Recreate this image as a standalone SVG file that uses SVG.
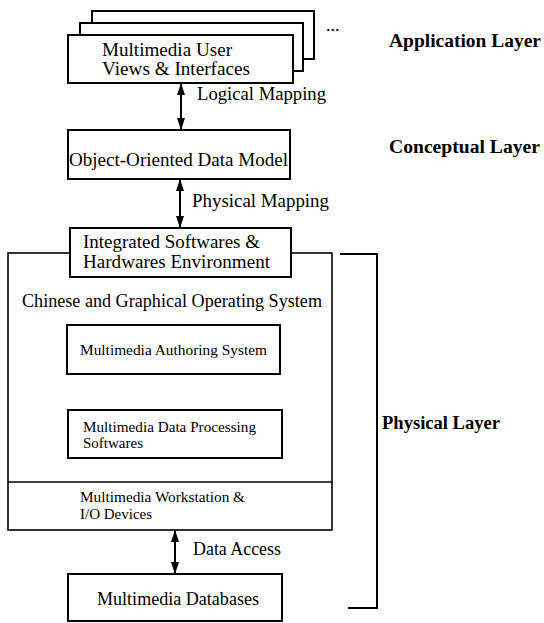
<svg xmlns="http://www.w3.org/2000/svg" width="544" height="623" viewBox="0 0 544 623">
<style>
text{font-family:"Liberation Serif","Times New Roman",serif;fill:#000}
.b{fill:#fff;stroke:#000;stroke-width:2}
.o{fill:none;stroke:#000;stroke-width:1.6}
.lab{font-size:18px}
.sm{font-size:15px}
.bold{font-weight:bold;font-size:18px}
.c{fill:none;stroke:#000;stroke-width:2}
</style>
<defs>
<marker id="ah" viewBox="0 0 12 8" refX="11" refY="4" markerWidth="12" markerHeight="8" orient="auto-start-reverse" markerUnits="userSpaceOnUse">
<path d="M0,0 L12,4 L0,8 z" fill="#000"/>
</marker>
</defs>
<rect width="544" height="623" fill="#fff"/>

<g id="application-layer-label"><text class="bold" x="389" y="47" textLength="152" lengthAdjust="spacingAndGlyphs">Application Layer</text></g>
<g id="conceptual-layer-label"><text class="bold" x="389" y="153" textLength="151" lengthAdjust="spacingAndGlyphs">Conceptual Layer</text></g>
<g id="physical-layer-label"><text class="bold" x="382" y="429" textLength="118" lengthAdjust="spacingAndGlyphs">Physical Layer</text></g>

<g id="user-views">
<rect class="b" x="92" y="11" width="222" height="48"/>
<rect class="b" x="80" y="23" width="223" height="48"/>
<rect class="b" x="68" y="35" width="225" height="48"/>
<text class="lab" x="102" y="56" textLength="130" lengthAdjust="spacingAndGlyphs">Multimedia User</text>
<text class="lab" x="102" y="75" textLength="148" lengthAdjust="spacingAndGlyphs">Views &amp; Interfaces</text>
<text class="lab" x="326" y="31">...</text>
</g>

<g id="data-model">
<rect class="b" x="68" y="130" width="222" height="49"/>
<text class="lab" x="69" y="166" textLength="219" lengthAdjust="spacingAndGlyphs">Object-Oriented Data Model</text>
</g>

<g id="physical-system">
<rect class="o" x="8" y="253" width="324" height="277"/>
<line class="o" x1="8" y1="482" x2="332" y2="482"/>
<text class="lab" x="22" y="307" textLength="300" lengthAdjust="spacingAndGlyphs">Chinese and Graphical Operating System</text>
<text class="sm" x="80" y="502" textLength="165" lengthAdjust="spacingAndGlyphs">Multimedia Workstation &amp;</text>
<text class="sm" x="80" y="519">I/O Devices</text>
</g>

<g id="integrated-env">
<rect class="b" x="70" y="228" width="221" height="49"/>
<text class="lab" x="83" y="248" textLength="177" lengthAdjust="spacingAndGlyphs">Integrated Softwares &amp;</text>
<text class="lab" x="83" y="268" textLength="187" lengthAdjust="spacingAndGlyphs">Hardwares Environment</text>
</g>

<g id="authoring-system">
<rect class="b" x="67" y="325" width="213" height="49"/>
<text class="sm" x="80" y="355" textLength="187" lengthAdjust="spacingAndGlyphs">Multimedia Authoring System</text>
</g>

<g id="data-processing">
<rect class="b" x="68" y="410" width="214" height="48"/>
<text class="sm" x="83" y="432" textLength="173" lengthAdjust="spacingAndGlyphs">Multimedia Data Processing</text>
<text class="sm" x="83" y="448">Softwares</text>
</g>

<g id="databases">
<rect class="b" x="68" y="574" width="214" height="47"/>
<text class="lab" x="97" y="605" textLength="162" lengthAdjust="spacingAndGlyphs">Multimedia Databases</text>
</g>

<g id="connectors">
<line class="c" x1="181" y1="84" x2="181" y2="129" marker-start="url(#ah)" marker-end="url(#ah)"/>
<line class="c" x1="180" y1="180" x2="180" y2="227" marker-start="url(#ah)" marker-end="url(#ah)"/>
<line class="c" x1="175" y1="531" x2="175" y2="573" marker-start="url(#ah)" marker-end="url(#ah)"/>
<text class="lab" x="197" y="100" textLength="129" lengthAdjust="spacingAndGlyphs">Logical Mapping</text>
<text class="lab" x="192" y="207" textLength="137" lengthAdjust="spacingAndGlyphs">Physical Mapping</text>
<text class="lab" x="193" y="555" textLength="88" lengthAdjust="spacingAndGlyphs">Data Access</text>
<polyline class="c" points="340,254 377,254 377,608 348,608"/>
</g>
</svg>
